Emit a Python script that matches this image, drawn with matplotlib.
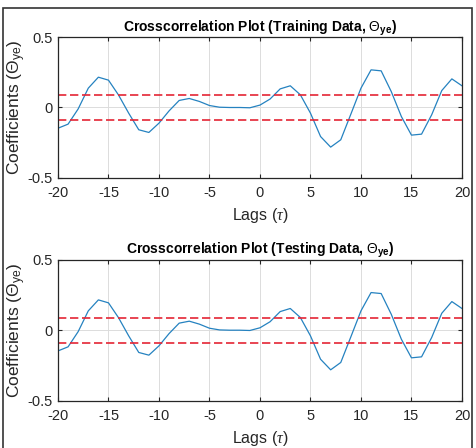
import numpy as np
import matplotlib.pyplot as plt
from matplotlib.patches import Rectangle

plt.rcParams['font.family'] = ['Liberation Sans', 'DejaVu Sans']
plt.rcParams['mathtext.fontset'] = 'custom'
plt.rcParams['mathtext.rm'] = 'Liberation Sans'
plt.rcParams['mathtext.it'] = 'Liberation Serif:italic'
plt.rcParams['mathtext.bf'] = 'Liberation Sans:bold'
plt.rcParams['axes.unicode_minus'] = False

# Cross-correlation values (same in both panels)
lags = np.arange(-20, 21)
train_coef = [-0.147, -0.118, -0.01, 0.137, 0.215, 0.194, 0.088, -0.04, -0.158, -0.177,
              -0.111, -0.024, 0.05, 0.064, 0.043, 0.014, 0.002, 0.0, 0.0, -0.002,
              0.017, 0.06, 0.132, 0.154, 0.09, -0.04, -0.206, -0.281, -0.229, -0.047,
              0.137, 0.267, 0.26, 0.113, -0.064, -0.196, -0.189, -0.052, 0.12, 0.203,
              0.154]
test_coef = list(train_coef)
conf_bound = 0.09  # confidence bounds (+/-)

titles = [r"Crosscorrelation Plot (Training Data, $\Theta_{\mathbf{ye}}$)",
          r"Crosscorrelation Plot (Testing Data, $\Theta_{\mathbf{ye}}$)"]
series = [train_coef, test_coef]

fig = plt.figure(figsize=(4.76, 4.48), dpi=100)
boxes = [[0.1218, 0.6027, 0.8487, 0.3147], [0.1218, 0.1056, 0.8487, 0.3147]]

for box, title, coef in zip(boxes, titles, series):
    ax = fig.add_axes(box)
    ax.plot(lags, coef, color='#2582c0', lw=0.9)
    for b in (conf_bound, -conf_bound):
        ax.axhline(b, color='#e42535', lw=1.2, ls=(0, (5, 2.2)))
    ax.set_xlim(-20, 20)
    ax.set_ylim(-0.5, 0.5)
    ax.set_xticks(np.arange(-20, 21, 5))
    ax.set_yticks([-0.5, 0, 0.5])
    ax.set_yticklabels(['-0.5', '0', '0.5'])
    ax.grid(True, color='#dcdcdc', lw=0.7)
    ax.set_axisbelow(True)
    ax.tick_params(direction='in', top=True, right=True, length=3, width=0.8,
                   color='#262626', labelsize=10.5, labelcolor='#262626')
    ax.tick_params(axis='x', pad=6)
    ax.tick_params(axis='y', pad=4)
    for s in ax.spines.values():
        s.set_color('#262626')
        s.set_linewidth(0.9)
    ax.set_title(title, fontsize=10, fontweight='bold', pad=4)
    ax.set_xlabel(r"Lags ($\tau$)", fontsize=11.5, color='#262626')
    ax.xaxis.set_label_coords(0.5, -0.2)
    ax.set_ylabel(r"Coefficients ($\Theta_{\mathrm{ye}}$)", fontsize=12.5, color='#262626')
    ax.yaxis.set_label_coords(-0.075, 0.5)

# outer frame of the figure
fig.patches.append(Rectangle((3 / 476, -0.05), 469 / 476, 1.05 - 8 / 448,
                             transform=fig.transFigure, fill=False,
                             edgecolor='#333333', lw=1.2))

fig.savefig('out.png', dpi=100)
